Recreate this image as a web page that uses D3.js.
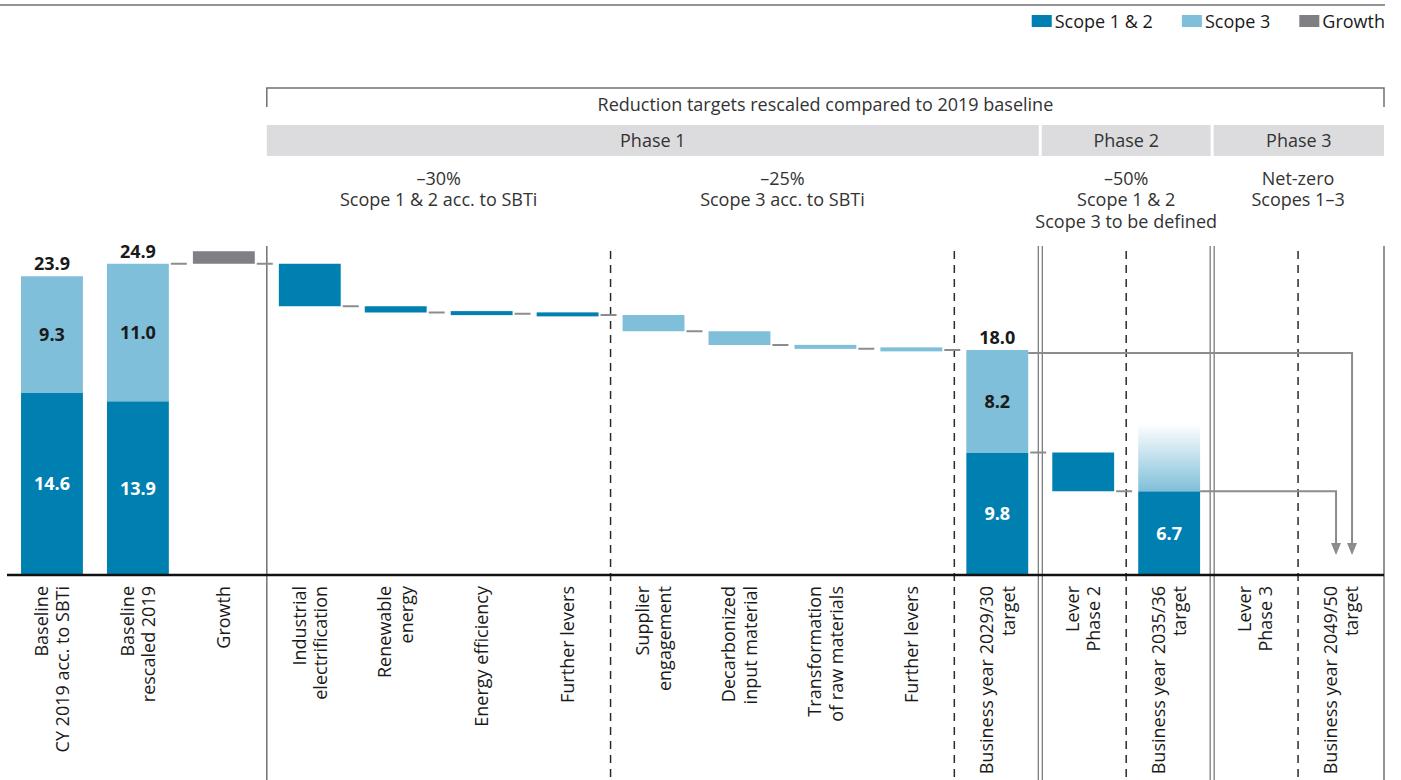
<!DOCTYPE html>
<html>
<head>
<meta charset="utf-8">
<script src="https://cdn.jsdelivr.net/npm/d3@7"></script>
<style>
  body { margin: 0; background: #fff; }
  svg { display: block; font-family: "Open Sans", "Noto Sans", sans-serif; }
</style>
</head>
<body>
<svg id="chart" width="1401" height="780"></svg>
<script>
// ---------------- data ----------------
const axisLabels = [
  "Baseline\nCY 2019 acc. to SBTi",
  "Baseline\nrescaled 2019",
  "Growth",
  "Industrial\nelectrification",
  "Renewable\nenergy",
  "Energy efficiency",
  "Further levers",
  "Supplier\nengagement",
  "Decarbonized\ninput material",
  "Transformation\nof raw materials",
  "Further levers",
  "Business year 2029/30\ntarget",
  "Lever\nPhase 2",
  "Business year 2035/36\ntarget",
  "Lever\nPhase 3",
  "Business year 2049/50\ntarget"
];

// stacked columns (baselines and targets)
const stackColumns = [0, 1, 11, 13];
const scope12Values = [14.6, 13.9, 9.8, 6.7];
const scope3Values  = [9.3, 11.0, 8.2, 0];
const totalLabels   = ["23.9", "24.9", "18.0", ""];
const scope3OpenRange = 5.4;   // scope 3 share after 2035/36 still to be defined

// floating steps (growth and reduction levers)
const stepColumns = [2, 3, 4, 5, 6, 7, 8, 9, 10, 12];
const stepValues  = [1.0, -3.4, -0.5, -0.1, -0.1, -1.3, -1.1, -0.3, -0.1, -3.1];
const stepSeries  = ["Growth", "Scope 1 & 2", "Scope 1 & 2", "Scope 1 & 2", "Scope 1 & 2",
                     "Scope 3", "Scope 3", "Scope 3", "Scope 3", "Scope 1 & 2"];

const legendItems = ["Scope 1 & 2", "Scope 3", "Growth"];

const headerTitle = "Reduction targets rescaled compared to 2019 baseline";
const phaseNames  = ["Phase 1", "Phase 2", "Phase 3"];
const phaseSpans  = [[3, 11], [12, 13], [14, 15]];
const targetNotes = [
  { from: 3,  to: 6,  lines: ["\u201330%", "Scope 1 & 2 acc. to SBTi"] },
  { from: 7,  to: 10, lines: ["\u201325%", "Scope 3 acc. to SBTi"] },
  { from: 12, to: 13, lines: ["\u201350%", "Scope 1 & 2", "Scope 3 to be defined"] },
  { from: 14, to: 15, lines: ["Net-zero", "Scopes 1\u20133"] }
];
// column separators: drawn after the given column index
const separators = [
  { after: 2, kind: "solid" }, { after: 6, kind: "dashed" }, { after: 10, kind: "dashed" },
  { after: 11, kind: "double" }, { after: 12, kind: "dashed" }, { after: 13, kind: "double" },
  { after: 14, kind: "dashed" }, { after: 15, kind: "solid" }
];

// ---------------- styles ----------------
const colors = { "Scope 1 & 2": "#0080b1", "Scope 3": "#80bfd9", "Growth": "#7f7f84" };
const connectorColor = "#8c8c8e";
const textColor = "#1a1a1a";
const headFont = 18;

const svg = d3.select("#chart");
const defs = svg.append("defs");
const x = d3.scaleBand().domain(d3.range(axisLabels.length)).range([9, 1384])
  .paddingInner(0.28).paddingOuter(0.14);
const y = d3.scaleLinear().domain([0, 24]).range([575, 275]);
const bw = x.bandwidth();
const step = x.step();
const boundary = i => x(i) + (step + bw) / 2;   // right edge of column i's slot
const cx = i => x(i) + bw / 2;

// ---------------- top rule & legend ----------------
svg.append("line").attr("x1", 0).attr("x2", 1385).attr("y1", 5).attr("y2", 5)
  .attr("stroke", "#707072").attr("stroke-width", 1.5);

const legend = svg.append("g");
let lx = 1385;
[...legendItems].reverse().forEach(name => {
  const g = legend.append("g");
  const t = g.append("text").attr("y", 27.5).attr("font-size", headFont).attr("fill", textColor).text(name);
  const w = t.node().getComputedTextLength();
  lx -= w;
  t.attr("x", lx);
  lx -= 3 + 20;
  g.append("rect").attr("x", lx).attr("y", 15).attr("width", 20).attr("height", 12).attr("fill", colors[name]);
  lx -= 29;
});

// ---------------- header ----------------
const hx0 = boundary(2), hx1 = boundary(15);
svg.append("path")
  .attr("d", `M${hx0},107V88H${hx1}V107`)
  .attr("fill", "none").attr("stroke", "#707072").attr("stroke-width", 1.5);
svg.append("text").attr("x", (hx0 + hx1) / 2).attr("y", 110.5).attr("text-anchor", "middle")
  .attr("font-size", headFont).attr("fill", "#333").text(headerTitle);

phaseNames.forEach((name, k) => {
  const [a, b] = phaseSpans[k];
  const xa = boundary(a - 1) + (k === 0 ? 0 : 1.5);
  const xb = boundary(b) - (k === phaseNames.length - 1 ? 0 : 1.5);
  svg.append("rect").attr("x", xa).attr("y", 125).attr("width", xb - xa).attr("height", 31)
    .attr("fill", "#dcdcdf");
  svg.append("text").attr("x", (xa + xb) / 2).attr("y", 146.5).attr("text-anchor", "middle")
    .attr("font-size", headFont).attr("fill", "#333").text(name);
});

targetNotes.forEach(n => {
  const xm = (boundary(n.from - 1) + boundary(n.to)) / 2;
  const t = svg.append("text").attr("text-anchor", "middle").attr("font-size", headFont).attr("fill", "#333");
  n.lines.forEach((line, i) => {
    t.append("tspan").attr("x", xm).attr("y", 184.5 + i * 21.5).text(line);
  });
});

// ---------------- separators ----------------
separators.forEach(s => {
  const sx = boundary(s.after);
  if (s.kind === "solid") {
    svg.append("line").attr("x1", sx).attr("x2", sx).attr("y1", 246).attr("y2", 780)
      .attr("stroke", "#707072").attr("stroke-width", 1.5);
  } else if (s.kind === "dashed") {
    svg.append("line").attr("x1", sx).attr("x2", sx).attr("y1", 251).attr("y2", 780)
      .attr("stroke", "#2a2a2a").attr("stroke-width", 1.5).attr("stroke-dasharray", "8,6");
  } else {
    [-2, 2].forEach(d => svg.append("line").attr("x1", sx + d).attr("x2", sx + d)
      .attr("y1", 246).attr("y2", 780).attr("stroke", "#555").attr("stroke-width", 1));
  }
});

// ---------------- stacked columns ----------------
const bars = svg.append("g");
const grad = defs.append("linearGradient").attr("id", "openScope3").attr("x1", 0).attr("x2", 0).attr("y1", 1).attr("y2", 0);
grad.append("stop").attr("offset", "0%").attr("stop-color", colors["Scope 3"]).attr("stop-opacity", 1);
grad.append("stop").attr("offset", "100%").attr("stop-color", colors["Scope 3"]).attr("stop-opacity", 0);

stackColumns.forEach((c, i) => {
  const s12 = scope12Values[i], s3 = scope3Values[i];
  bars.append("rect").attr("x", x(c)).attr("width", bw)
    .attr("y", y(s12)).attr("height", y(0) - y(s12)).attr("fill", colors["Scope 1 & 2"]);
  if (s3 > 0) {
    bars.append("rect").attr("x", x(c)).attr("width", bw)
      .attr("y", y(s12 + s3)).attr("height", y(s12) - y(s12 + s3)).attr("fill", colors["Scope 3"]);
    bars.append("text").attr("x", cx(c)).attr("y", (y(s12) + y(s12 + s3)) / 2).attr("dy", "0.36em")
      .attr("text-anchor", "middle").attr("font-size", 18).attr("font-weight", 700)
      .attr("fill", textColor).text(s3.toFixed(1));
  } else {
    bars.append("rect").attr("x", x(c)).attr("width", bw)
      .attr("y", y(s12 + scope3OpenRange)).attr("height", y(s12) - y(s12 + scope3OpenRange))
      .attr("fill", "url(#openScope3)");
  }
  bars.append("text").attr("x", cx(c)).attr("y", (y(0) + y(s12)) / 2).attr("dy", "0.36em")
    .attr("text-anchor", "middle").attr("font-size", 18).attr("font-weight", 700)
    .attr("fill", "#fff").text(s12.toFixed(1));
  if (totalLabels[i]) {
    bars.append("text").attr("x", cx(c)).attr("y", y(s12 + s3) - 6)
      .attr("text-anchor", "middle").attr("font-size", 18).attr("font-weight", 700)
      .attr("fill", textColor).text(totalLabels[i]);
  }
});

// ---------------- floating steps ----------------
// Reductions of phase 1 are measured from the rescaled 2019 baseline; growth is shown on top of it.
let level = scope12Values[1] + scope3Values[1];
const connectors = [{ col: 1, v: level }];
stepColumns.forEach((c, i) => {
  const v = stepValues[i];
  let start = level;
  if (c === 12) start = scope12Values[2];          // phase 2 lever acts on scope 1 & 2 of 2029/30
  const end = start + v;
  const top = y(Math.max(start, end)), bot = y(Math.min(start, end));
  let h = bot - top, yy = top;
  if (h < 4) { yy = (top + bot) / 2 - 2; h = 4; }
  bars.append("rect").attr("x", x(c)).attr("width", bw).attr("y", yy).attr("height", h)
    .attr("fill", colors[stepSeries[i]]);
  if (stepSeries[i] !== "Growth") level = end;
  connectors.push({ col: c, v: stepSeries[i] === "Growth" ? start : end });
});
connectors.push({ col: 11, v: scope12Values[2] });

connectors.forEach(d => {
  svg.append("line").attr("x1", x(d.col) + bw + 2).attr("x2", x(d.col) + bw + 18)
    .attr("y1", y(d.v)).attr("y2", y(d.v))
    .attr("stroke", connectorColor).attr("stroke-width", 2);
});

// ---------------- arrows to 2049/50 ----------------
defs.append("marker").attr("id", "arrowHead").attr("viewBox", "0 0 12 10")
  .attr("refX", 10).attr("refY", 5).attr("markerWidth", 12).attr("markerHeight", 10)
  .attr("markerUnits", "userSpaceOnUse").attr("orient", "auto")
  .append("path").attr("d", "M0,0L12,5L0,10Z").attr("fill", connectorColor);

const arrowSources = [
  { col: 11, v: scope12Values[2] + scope3Values[2], dx: 11 },
  { col: 13, v: scope12Values[3], dx: -5 }
];
arrowSources.forEach(a => {
  const ax = cx(15) + a.dx;
  svg.append("path")
    .attr("d", `M${x(a.col) + bw},${y(a.v) + (a.col === 11 ? 3 : 0)}H${ax}V${y(0) - 22}`)
    .attr("fill", "none").attr("stroke", connectorColor).attr("stroke-width", 2)
    .attr("marker-end", "url(#arrowHead)");
});

// ---------------- axis ----------------
svg.append("line").attr("x1", 7).attr("x2", 1384).attr("y1", y(0)).attr("y2", y(0))
  .attr("stroke", "#111").attr("stroke-width", 2.5);

const labels = svg.append("g");
axisLabels.forEach((lab, c) => {
  const lines = lab.split("\n");
  const t = labels.append("text")
    .attr("transform", `translate(${cx(c)},586) rotate(-90)`)
    .attr("text-anchor", "end").attr("font-size", 18).attr("fill", textColor);
  lines.forEach((line, i) => {
    const off = (i - (lines.length - 1) / 2) * 21.5;
    t.append("tspan").attr("x", 0).attr("y", off).attr("dy", "0.36em").text(line);
  });
});
</script>
</body>
</html>
